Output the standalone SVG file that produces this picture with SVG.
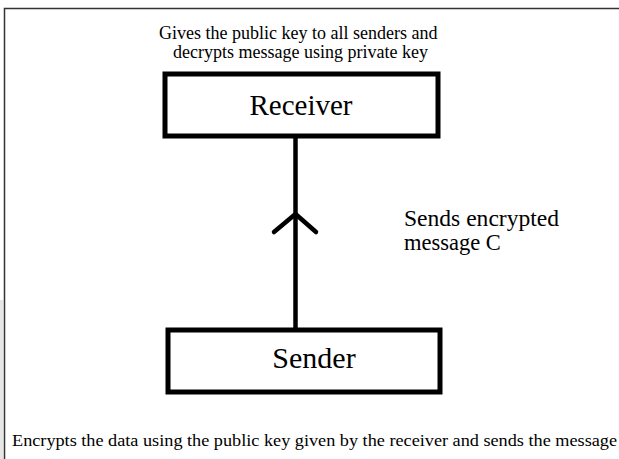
<svg xmlns="http://www.w3.org/2000/svg" width="619" height="459" viewBox="0 0 619 459">
  <style>
    .frame { fill: none; stroke: #333; stroke-width: 1.5; }
    .box { fill: #fff; stroke: #000; stroke-width: 5; }
    .edge { fill: none; stroke: #000; stroke-width: 4.5; stroke-linecap: round; stroke-linejoin: round; }
    .note { font-family: "Liberation Serif", "Times New Roman", serif; fill: #000; }
    .title { font-family: "Liberation Serif", "Times New Roman", serif; fill: #000; text-anchor: middle; }
  </style>
  <rect width="619" height="459" fill="#fff"/>
  <rect x="0" y="300" width="3" height="159" fill="#e6e6e6"/>
  <!-- page frame -->
  <path class="frame" d="M4.5 459 V8.5 H619"/>

  <!-- top annotation -->
  <text class="note" font-size="18" text-anchor="middle">
    <tspan x="300.5" y="39">Gives the public key to all senders and</tspan>
    <tspan x="300.5" y="58">decrypts message using private key</tspan>
  </text>

  <g id="connectors">
    <line class="edge" x1="295.5" y1="137" x2="295.5" y2="328"/>
    <polyline class="edge" points="274,232 295.5,214 316,232"/>
  </g>

  <g id="receiver">
    <rect class="box" x="165" y="74" width="273" height="62"/>
    <text class="title" font-size="29" x="301" y="115">Receiver</text>
  </g>

  <g id="sender">
    <rect class="box" x="168" y="330" width="272" height="62"/>
    <text class="title" font-size="30" x="314" y="368">Sender</text>
  </g>

  <text class="note" font-size="22.5">
    <tspan x="404" y="226" textLength="155" lengthAdjust="spacingAndGlyphs">Sends encrypted</tspan>
    <tspan x="404" y="250">message C</tspan>
  </text>

  <text class="note" font-size="16" x="12" y="446" textLength="605" lengthAdjust="spacingAndGlyphs">Encrypts the data using the public key given by the receiver and sends the message</text>
</svg>
